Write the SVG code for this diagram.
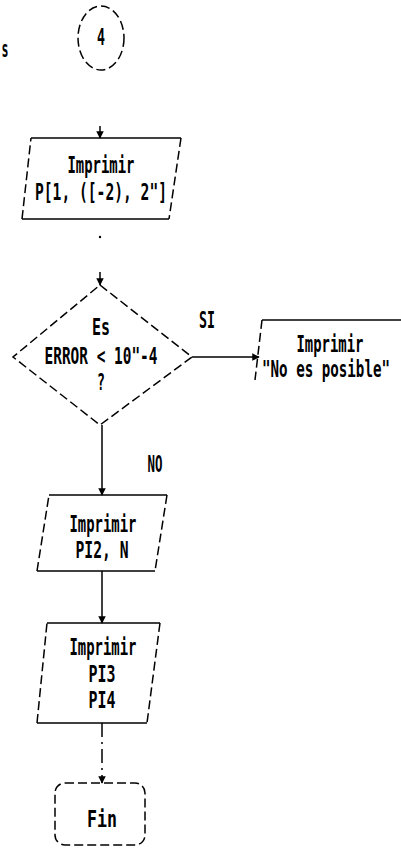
<svg xmlns="http://www.w3.org/2000/svg" width="401" height="848" viewBox="0 0 401 848">
<style>
.t{font-family:"DejaVu Sans Mono","Liberation Mono",monospace;font-weight:bold;font-size:23px;fill:#000;text-anchor:middle}
.s{fill:none;stroke:#000;stroke-width:1.5}
.d{fill:none;stroke:#000;stroke-width:1.5;stroke-dasharray:9 4}
.c{fill:none;stroke:#000;stroke-width:1.5}
</style>
<defs>
<marker id="ah" viewBox="0 0 10 10" refX="9" refY="5" markerWidth="5" markerHeight="5" orient="auto"><path d="M0,0 L10,5 L0,10 z" fill="#000"/></marker>
</defs>
<rect width="401" height="848" fill="#fff"/>
<g id="fragment"><text class="t" x="5" y="57" font-size="17" textLength="7" lengthAdjust="spacingAndGlyphs">s</text></g>
<g id="connector4">
<ellipse cx="101" cy="38" rx="23" ry="32" class="d" stroke-dasharray="24 2"/>
<text class="t" x="101" y="45" font-size="22" textLength="8" lengthAdjust="spacingAndGlyphs">4</text>
</g>
<g id="print1">
<path d="M31,138 H181" class="s" stroke-width="2.5"/>
<path d="M181,138 L169,219" class="d"/>
<path d="M169,219 H22" class="s" stroke-width="2"/>
<path d="M22,219 L31,138" class="d"/>
<text class="t" x="101" y="173" textLength="67" lengthAdjust="spacingAndGlyphs">Imprimir</text>
<text class="t" x="101" y="200" textLength="132" lengthAdjust="spacingAndGlyphs">P[1, ([-2), 2"]</text>
</g>
<g id="decision">
<polygon points="100,285 192,357 100,425 13,357" class="d" stroke-dasharray="14 2"/>
<text class="t" x="101" y="335" font-size="19" textLength="18" lengthAdjust="spacingAndGlyphs">Es</text>
<text class="t" x="101" y="364" font-size="21" textLength="113" lengthAdjust="spacingAndGlyphs">ERROR &lt; 10"-4</text>
<text class="t" x="101" y="390" font-size="21" textLength="8" lengthAdjust="spacingAndGlyphs">?</text>
</g>
<g id="print_error">
<path d="M262,320 H401" class="s"/>
<path d="M262,320 L255,380" class="d"/>
<text class="t" x="330" y="352" font-size="20" textLength="67" lengthAdjust="spacingAndGlyphs">Imprimir</text>
<text class="t" x="326" y="377" font-size="22" textLength="128" lengthAdjust="spacingAndGlyphs">"No es posible"</text>
</g>
<g id="print2">
<path d="M49,495 H167" class="s" stroke-width="2.5"/>
<path d="M167,495 L155,571" class="d"/>
<path d="M155,571 H37" class="s" stroke-width="2"/>
<path d="M37,571 L49,495" class="d"/>
<text class="t" x="103" y="532" textLength="67" lengthAdjust="spacingAndGlyphs">Imprimir</text>
<text class="t" x="102" y="558" textLength="53" lengthAdjust="spacingAndGlyphs">PI2, N</text>
</g>
<g id="print3">
<path d="M47,623 H160" class="s" stroke-width="2.5"/>
<path d="M160,623 L147,723" class="d"/>
<path d="M147,723 H37" class="s" stroke-width="3"/>
<path d="M37,723 L47,623" class="d"/>
<text class="t" x="103" y="655" textLength="67" lengthAdjust="spacingAndGlyphs">Imprimir</text>
<text class="t" x="102" y="682" textLength="27" lengthAdjust="spacingAndGlyphs">PI3</text>
<text class="t" x="102" y="708" textLength="27" lengthAdjust="spacingAndGlyphs">PI4</text>
</g>
<g id="fin">
<rect x="55" y="783" width="90" height="62" rx="10" class="d" stroke-dasharray="16 3"/>
<text class="t" x="102" y="827" textLength="30" lengthAdjust="spacingAndGlyphs">Fin</text>
</g>
<g id="connectors">
<path d="M100,126 V138" class="c" marker-end="url(#ah)"/>
<circle cx="100" cy="237" r="1.2" fill="#000"/>
<path d="M100,272 V285" class="c" marker-end="url(#ah)"/>
<path d="M192,357 H259" class="c" stroke-width="2.5" marker-end="url(#ah)"/>
<path d="M102,425 V495" class="c" marker-end="url(#ah)"/>
<path d="M102,571 V623" class="c" marker-end="url(#ah)"/>
<path d="M102,723 V783" class="c" stroke-dasharray="14 5 2 5" marker-end="url(#ah)"/>
<text class="t" x="207" y="328" font-size="18" textLength="16" lengthAdjust="spacingAndGlyphs">SI</text>
<text class="t" x="155" y="472" font-size="22" textLength="15" lengthAdjust="spacingAndGlyphs">NO</text>
</g>
</svg>
